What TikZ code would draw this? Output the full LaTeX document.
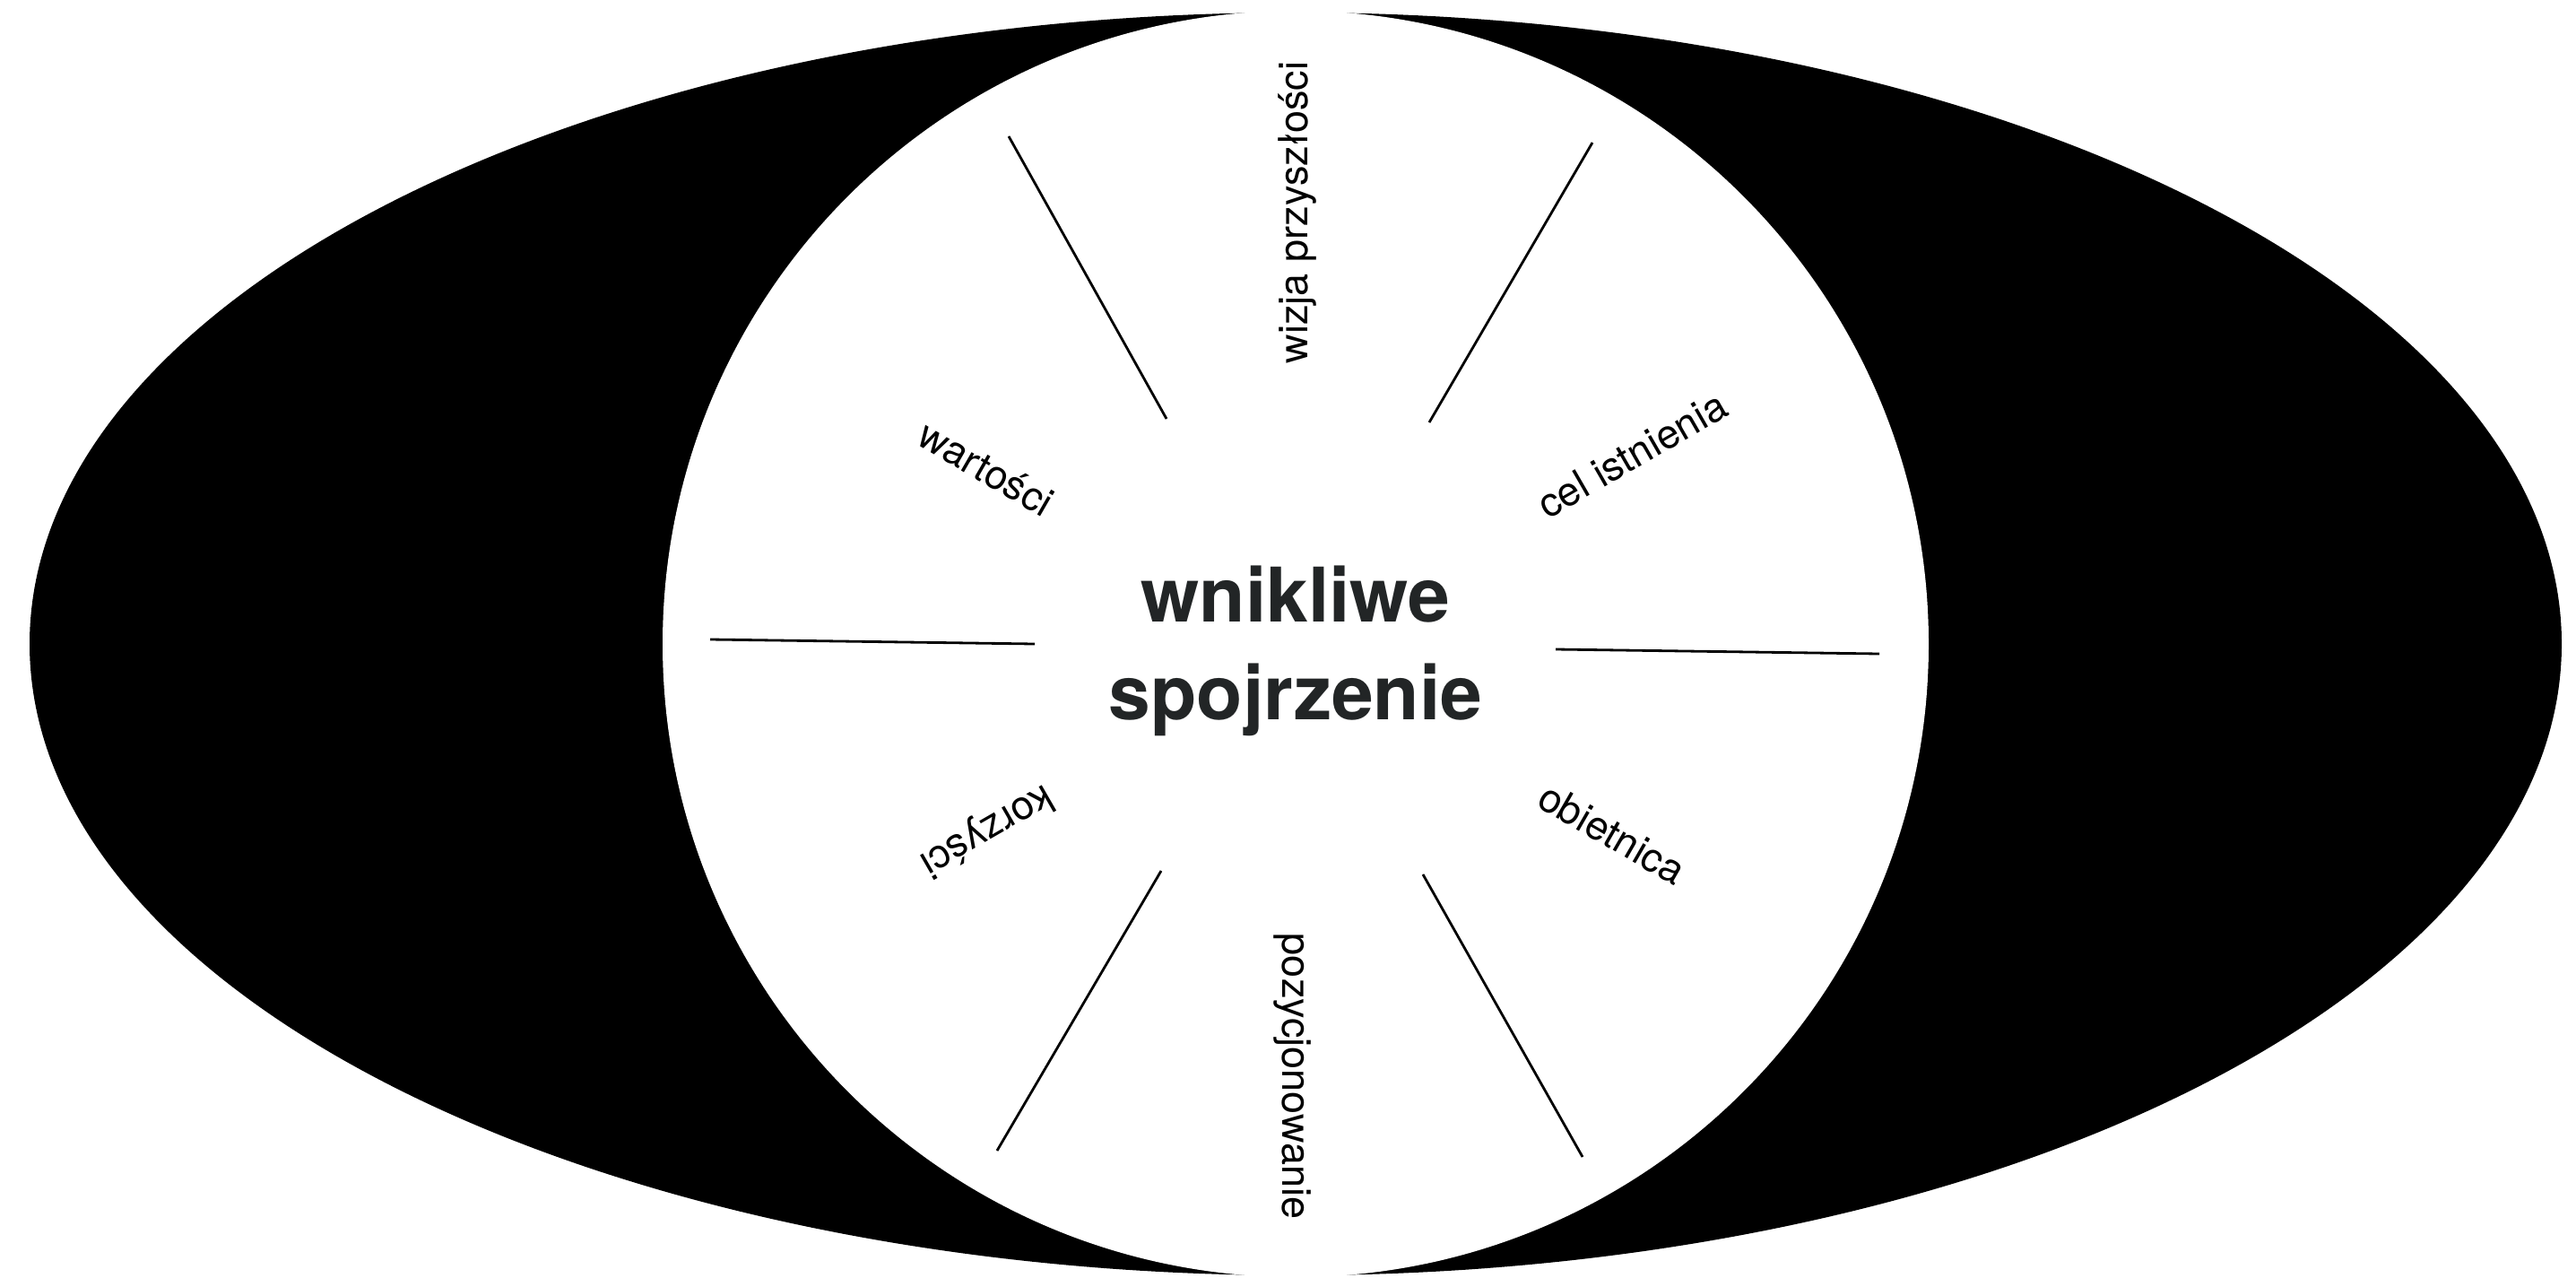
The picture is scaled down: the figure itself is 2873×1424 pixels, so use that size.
\documentclass[tikz,border=0pt]{standalone}
\usepackage{fontspec}
\setmainfont{TeX Gyre Heros}
\definecolor{titlegray}{HTML}{222526}
\begin{document}
\begin{tikzpicture}[x=0.5pt,y=-0.5pt,
  lbl/.style={font=\fontsize{22.5}{27}\selectfont, inner sep=0pt, text=black},
  ttl/.style={font=\fontsize{42}{54}\selectfont\bfseries, inner sep=0pt, text=titlegray, anchor=base},
  spoke/.style={line width=1.4pt, draw=black}]
\fill[white] (0,0) rectangle (2873,1424);
\useasboundingbox (0,0) rectangle (2873,1424);
\coordinate (ctr) at (1445,718);
\fill[black] (ctr) ellipse [x radius=706pt, y radius=352pt];
\fill[white] (ctr) circle [radius=353pt];
% title
\node[ttl] (t1) at (1445,693) {wnikliwe};
\node[ttl] (t2) at (1445,802) {spojrzenie};
% labels
\node[lbl, rotate=90]  (l1) at (1447,237) {wizja przyszłości};
\node[lbl, rotate=30]  (l2) at (1820,507) {cel istnienia};
\node[lbl, rotate=-30] (l3) at (1798,929) {obietnica};
\node[lbl, rotate=-90] (l4) at (1441,1200) {pozycjonowanie};
\node[lbl, rotate=210] (l5) at (1100,925) {korzyści};
\node[lbl, rotate=-30] (l6) at (1100,522) {wartości};
% spokes
\coordinate (a1) at (1125,152);  \coordinate (b1) at (1301,467);
\coordinate (a2) at (1776,159);  \coordinate (b2) at (1594,471);
\coordinate (a3) at (792,713);   \coordinate (b3) at (1154,718);
\coordinate (a4) at (2096,729);  \coordinate (b4) at (1735,724);
\coordinate (a5) at (1112,1283); \coordinate (b5) at (1295,971);
\coordinate (a6) at (1765,1290); \coordinate (b6) at (1587,975);
\foreach \i in {1,...,6} { \draw[spoke] (a\i) -- (b\i); }
\end{tikzpicture}
\end{document}
